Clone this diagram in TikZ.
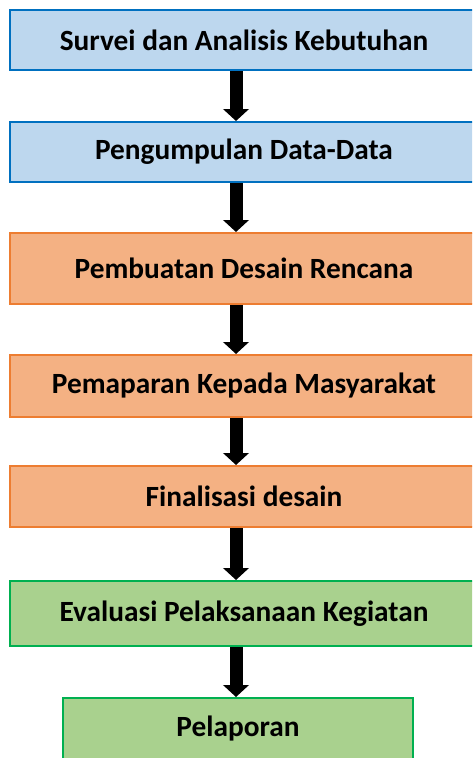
\documentclass[tikz,border=0pt]{standalone}
\usepackage{fontspec}
\setmainfont{Carlito}
\usetikzlibrary{arrows.meta}

\definecolor{blueFill}{HTML}{BDD7EE}
\definecolor{blueLine}{HTML}{0070C0}
\definecolor{orangeFill}{HTML}{F4B183}
\definecolor{orangeLine}{HTML}{ED7D31}
\definecolor{greenFill}{HTML}{A9D18E}
\definecolor{greenLine}{HTML}{00B050}

\begin{document}
\begin{tikzpicture}[x=0.75pt,y=-0.75pt,
		stage/.style={draw,line width=1.5pt,minimum width=351pt,inner sep=0pt,font=\bfseries\fontsize{22}{26}\selectfont},
		blueStage/.style={stage,fill=blueFill,draw=blueLine},
		orangeStage/.style={stage,fill=orangeFill,draw=orangeLine},
		greenStage/.style={stage,fill=greenFill,draw=greenLine},
		flow/.style={-{Triangle[width=19pt,length=9pt]},line width=9.75pt}]
		\path[use as bounding box,clip] (0,0) rectangle (472,758);% picture frame
		\node[blueStage,minimum height=45pt] (survei) at (244,40) {Survei dan Analisis Kebutuhan};
		\node[blueStage,minimum height=45pt] (data) at (244,152) {Pengumpulan Data-Data};
		\node[orangeStage,minimum height=53.25pt] (desain) at (244,268.5) {Pembuatan Desain Rencana};
		\node[orangeStage,minimum height=46.5pt] (paparan) at (244,386) {Pemaparan Kepada Masyarakat};
		\node[orangeStage,minimum height=45.75pt] (final) at (244,496.5) {Finalisasi desain};
		\node[greenStage,minimum height=48.75pt] (evaluasi) at (244,613.5) {Evaluasi Pelaksanaan Kegiatan};
		\node[greenStage,minimum width=262.5pt,minimum height=46.5pt] (lapor) at (238,729) {Pelaporan};
		% arrows between the stages
		\foreach \from/\to in {survei/data,data/desain,desain/paparan,paparan/final,final/evaluasi,evaluasi/lapor}
			\draw[flow] (\from.south -| 236,0) -- (\to.north -| 236,0);
	\end{tikzpicture}
\end{document}
